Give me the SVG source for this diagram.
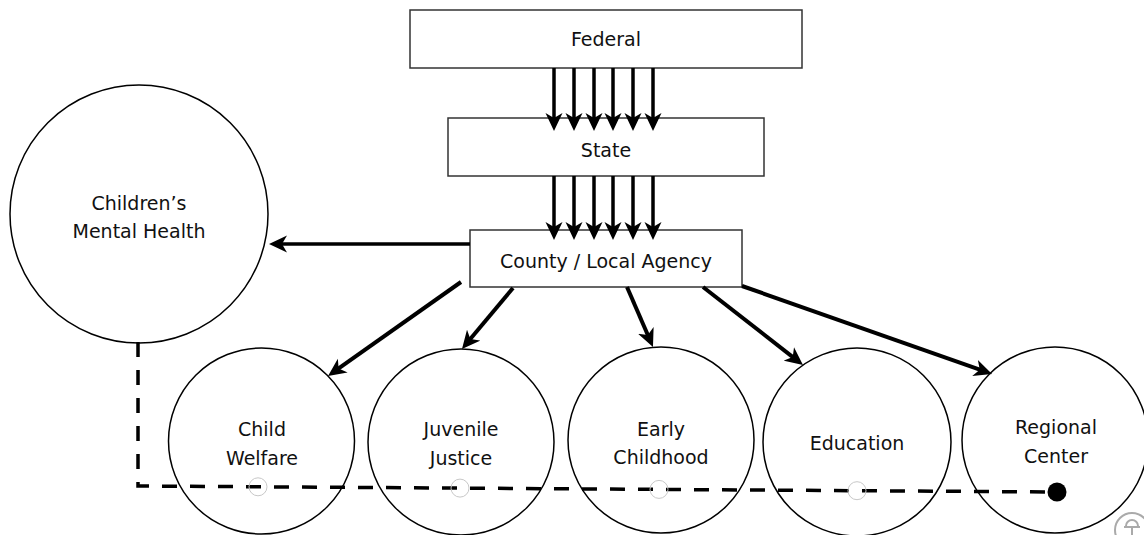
<svg xmlns="http://www.w3.org/2000/svg" width="1144" height="535" viewBox="0 0 1144 535">
<style>
.box{fill:#fff;stroke:#333;stroke-width:1.5}
.node{fill:#fff;stroke:#000;stroke-width:1.5}
.t{font-family:"DejaVu Sans","Liberation Sans",sans-serif;font-size:19px;fill:#111;text-anchor:middle}
.arr{stroke:#000;stroke-width:3.5;fill:none;marker-end:url(#ah)}
.dash{stroke:#000;stroke-width:3.5;fill:none;stroke-dasharray:15 13}
.hole{fill:none;stroke:#c8c8c8;stroke-width:1}
</style>
<defs>
<marker id="ah" markerUnits="userSpaceOnUse" markerWidth="20" markerHeight="18" viewBox="0 0 20 18" refX="8" refY="9" orient="auto">
<path d="M0,0.5 L18,9 L0,17.5 L5,9 Z" fill="#000"/>
</marker>
</defs>
<rect width="1144" height="535" fill="#fff"/>
<g id="cmh">
<circle class="node" cx="139" cy="214" r="129"/>
<text class="t" x="139" y="210">Children’s</text>
<text class="t" x="139" y="238">Mental Health</text>
</g>
<g id="child-welfare">
<circle class="node" cx="261.5" cy="441" r="93"/>
<text class="t" x="262" y="436">Child</text>
<text class="t" x="262" y="465">Welfare</text>
</g>
<g id="juvenile-justice">
<circle class="node" cx="461" cy="442" r="93"/>
<text class="t" x="461" y="436">Juvenile</text>
<text class="t" x="461" y="465">Justice</text>
</g>
<g id="early-childhood">
<circle class="node" cx="661" cy="440" r="93"/>
<text class="t" x="661" y="436">Early</text>
<text class="t" x="661" y="464">Childhood</text>
</g>
<g id="education">
<circle class="node" cx="857" cy="442" r="94"/>
<text class="t" x="857" y="450">Education</text>
</g>
<g id="regional-center">
<circle class="node" cx="1055" cy="440" r="93"/>
<text class="t" x="1056" y="434">Regional</text>
<text class="t" x="1056" y="463">Center</text>
</g>
<g id="federal">
<rect class="box" x="410" y="10" width="392" height="58"/>
<text class="t" x="606" y="46">Federal</text>
</g>
<g id="state">
<rect class="box" x="448" y="118" width="316" height="58"/>
<text class="t" x="606" y="157">State</text>
</g>
<g id="county">
<rect class="box" x="470" y="230" width="272" height="57"/>
<text class="t" x="606" y="268">County / Local Agency</text>
</g>
<g id="connectors">
<line class="arr" x1="554" y1="68" x2="554" y2="121"/>
<line class="arr" x1="574" y1="68" x2="574" y2="121"/>
<line class="arr" x1="594" y1="68" x2="594" y2="121"/>
<line class="arr" x1="613" y1="68" x2="613" y2="121"/>
<line class="arr" x1="633" y1="68" x2="633" y2="121"/>
<line class="arr" x1="653" y1="68" x2="653" y2="121"/>
<line class="arr" x1="554" y1="176" x2="554" y2="230"/>
<line class="arr" x1="574" y1="176" x2="574" y2="230"/>
<line class="arr" x1="594" y1="176" x2="594" y2="230"/>
<line class="arr" x1="613" y1="176" x2="613" y2="230"/>
<line class="arr" x1="633" y1="176" x2="633" y2="230"/>
<line class="arr" x1="653" y1="176" x2="653" y2="230"/>
<line class="arr" x1="470" y1="244" x2="279" y2="244"/>
<line class="arr" style="stroke-width:4" x1="461" y1="282" x2="336.2" y2="370.2"/>
<line class="arr" style="stroke-width:4" x1="513" y1="288" x2="468.4" y2="341.3"/>
<line class="arr" style="stroke-width:4" x1="627" y1="287" x2="649" y2="337.8"/>
<line class="arr" style="stroke-width:4" x1="703" y1="287" x2="795.1" y2="358.8"/>
<line class="arr" style="stroke-width:4" x1="742" y1="286" x2="982.6" y2="370.7"/>
<path class="dash" d="M138,342 L138,486 L1057,492"/>
<circle cx="1057" cy="492" r="9.5" fill="#000"/>
<circle class="hole" cx="258" cy="486.8" r="9"/>
<circle class="hole" cx="460" cy="488.1" r="9"/>
<circle class="hole" cx="659" cy="489.4" r="9"/>
<circle class="hole" cx="857" cy="490.7" r="9"/>
</g>
<g id="corner-icon" fill="none" stroke="#aaa" stroke-width="2">
<circle cx="1132" cy="530" r="17"/>
<path d="M1126,526 A6,6 0 0 1 1138,526"/>
<line x1="1124" y1="527" x2="1140" y2="527"/>
<line x1="1132" y1="527" x2="1132" y2="535"/>
</g>
</svg>
